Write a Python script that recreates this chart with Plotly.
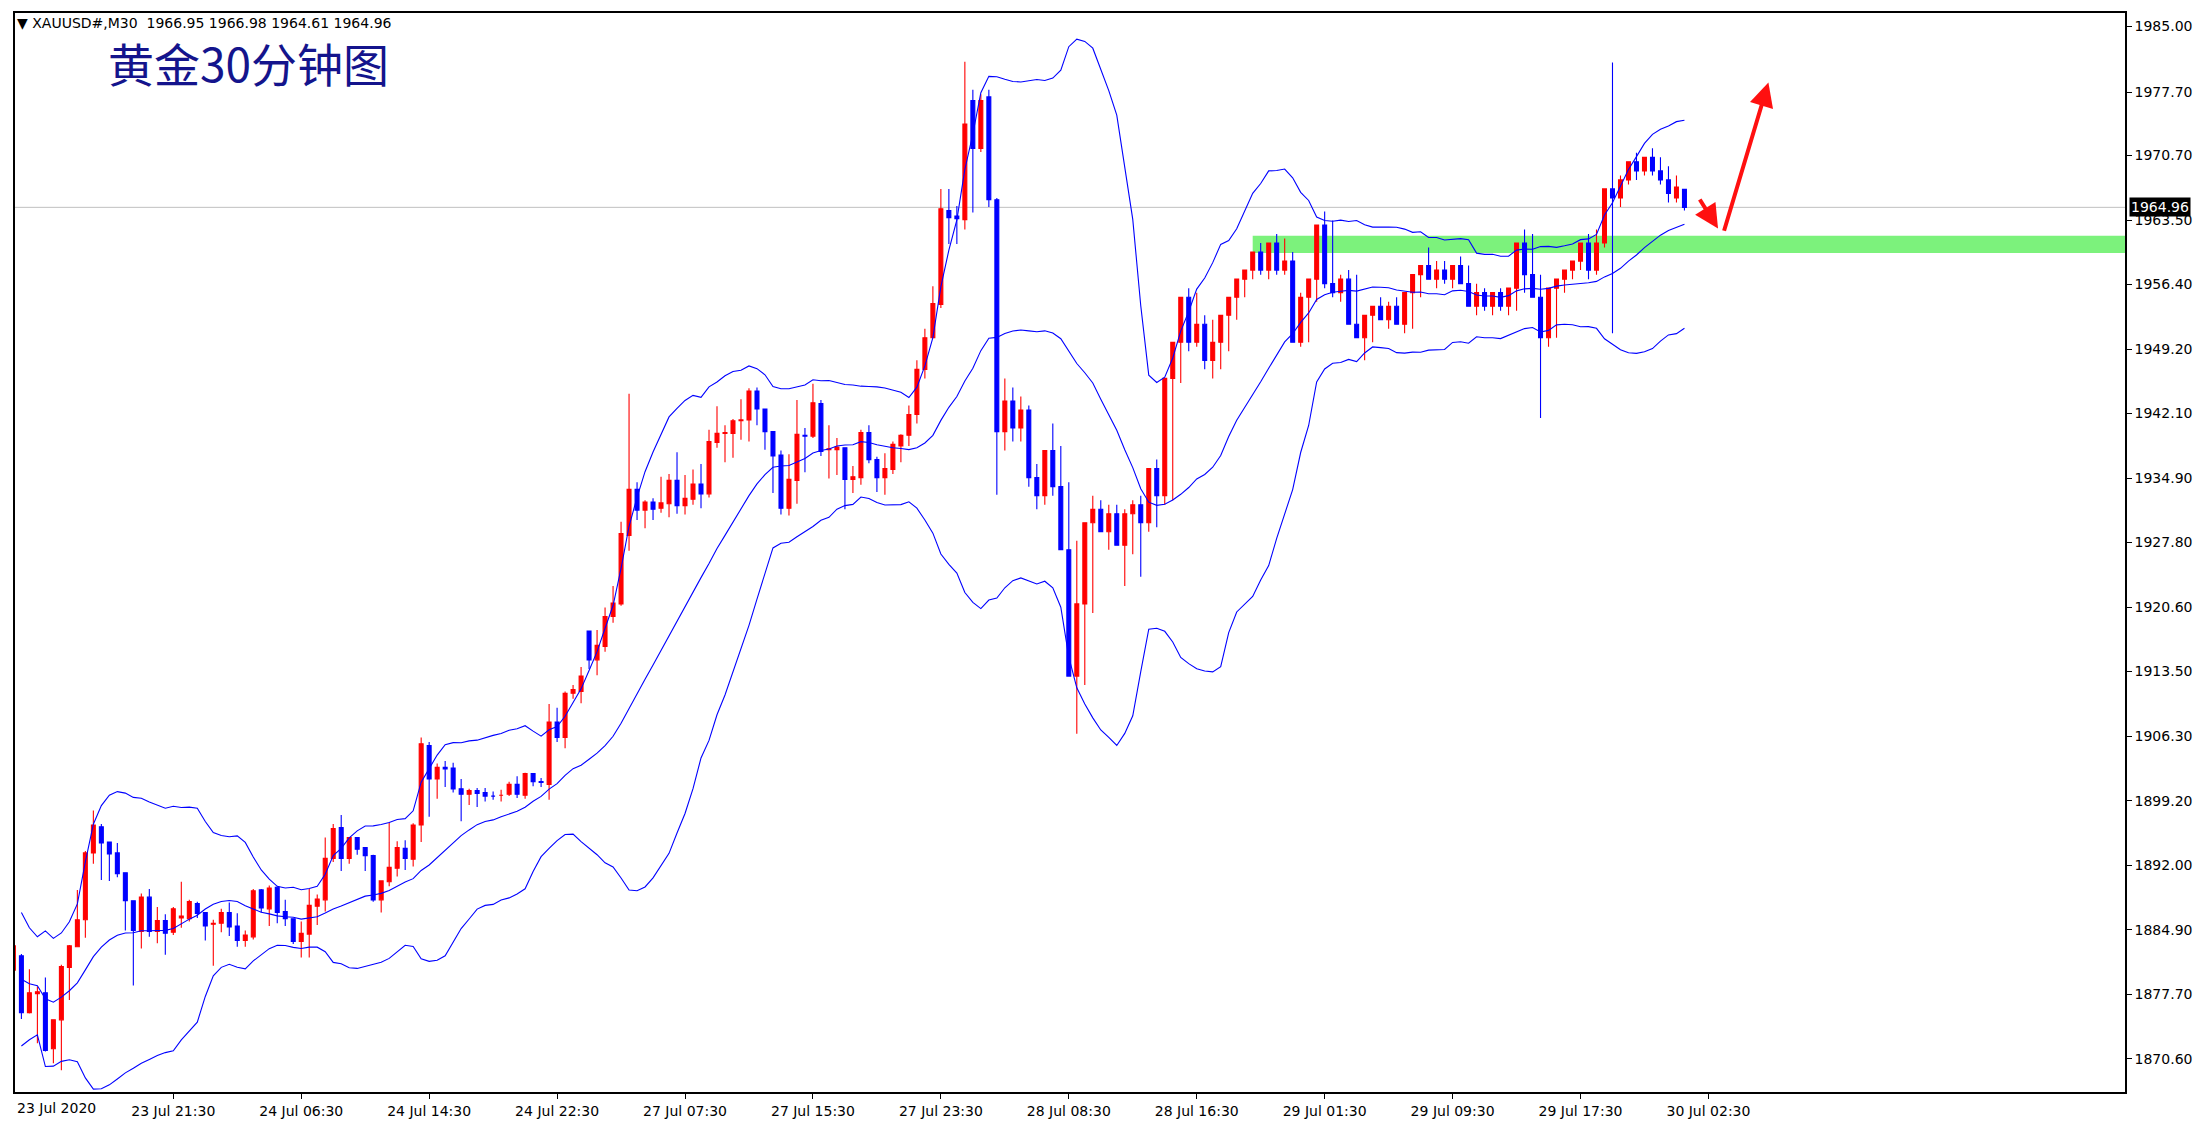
import plotly.graph_objects as go
import pandas as pd

# 30-minute XAUUSD bars (bar 0 = 23 Jul 11:30)
opens = [1880.4, 1882.0, 1875.7, 1877.8, 1877.9, 1871.7, 1874.9, 1880.7, 1883.0, 1886.0,
         1893.4, 1896.3, 1894.6, 1893.4, 1891.2, 1888.1, 1884.7, 1888.5, 1884.7, 1885.9,
         1884.6, 1886.2, 1886.1, 1887.8, 1886.8, 1885.5, 1885.6, 1886.8, 1885.3, 1883.7,
         1884.1, 1889.3, 1887.2, 1889.6, 1886.9, 1886.1, 1883.6, 1884.4, 1887.5, 1888.2,
         1892.8, 1896.2, 1892.8, 1895.1, 1894.0, 1893.1, 1888.2, 1890.2, 1891.7, 1893.9,
         1892.7, 1896.5, 1905.3, 1901.6, 1902.9, 1902.8, 1900.5, 1899.9, 1900.3, 1900.1,
         1899.7, 1899.8, 1899.9, 1901.0, 1899.8, 1902.2, 1901.3, 1901.0, 1907.9, 1906.2,
         1911.1, 1911.3, 1918.0, 1914.8, 1916.3, 1919.6, 1921.0, 1928.6, 1933.7, 1931.4,
         1932.3, 1931.6, 1932.1, 1934.7, 1931.9, 1932.6, 1934.3, 1933.2, 1938.9, 1939.9,
         1939.9, 1941.3, 1941.4, 1944.6, 1942.6, 1940.1, 1937.5, 1931.6, 1934.7, 1939.7,
         1939.6, 1943.2, 1938.1, 1938.1, 1938.3, 1934.8, 1935.0, 1940.0, 1937.0, 1935.0,
         1935.9, 1938.5, 1939.7, 1942.0, 1947.0, 1950.5, 1954.2, 1964.6, 1964.0, 1963.6,
         1976.8, 1971.5, 1977.2, 1965.8, 1940.1, 1943.5, 1940.5, 1942.5, 1935.0, 1933.0,
         1938.0, 1934.0, 1927.0, 1913.0, 1921.0, 1930.0, 1931.5, 1929.0, 1931.0, 1927.5,
         1931.0, 1932.0, 1930.0, 1936.0, 1933.0, 1946.0, 1950.0, 1955.0, 1950.0, 1952.0,
         1948.0, 1950.0, 1953.0, 1955.0, 1957.0, 1958.0, 1960.0, 1958.0, 1961.0, 1958.0,
         1959.0, 1950.0, 1955.0, 1957.0, 1963.0, 1956.5, 1955.5, 1957.0, 1952.0, 1950.5,
         1953.0, 1954.0, 1952.5, 1954.0, 1952.0, 1955.5, 1957.5, 1958.5, 1957.0, 1958.0,
         1957.0, 1958.5, 1956.5, 1954.0, 1955.5, 1954.0, 1955.5, 1954.0, 1956.0, 1961.0,
         1957.5, 1955.0, 1950.5, 1956.0, 1957.0, 1958.0, 1959.0, 1961.0, 1958.0, 1961.0,
         1967.0, 1966.0, 1968.0, 1970.0, 1969.0, 1970.5, 1969.0, 1968.0, 1966.0, 1966.95]
closes = [1883.1, 1875.7, 1877.9, 1878.0, 1871.5, 1874.9, 1880.8, 1883.1, 1886.0, 1893.4,
          1896.5, 1894.5, 1893.3, 1891.1, 1888.1, 1884.8, 1888.5, 1884.7, 1885.9, 1884.5,
          1887.2, 1886.4, 1888.0, 1886.7, 1885.3, 1885.6, 1886.8, 1885.2, 1883.7, 1884.3,
          1889.2, 1887.3, 1889.5, 1886.8, 1886.1, 1883.6, 1884.5, 1887.6, 1888.3, 1892.8,
          1896.1, 1892.8, 1895.1, 1893.8, 1893.1, 1888.2, 1890.3, 1891.8, 1894.0, 1892.8,
          1896.5, 1905.5, 1901.6, 1902.9, 1902.7, 1900.5, 1899.9, 1900.3, 1900.0, 1899.7,
          1899.7, 1899.8, 1901.0, 1899.9, 1902.2, 1901.3, 1901.2, 1907.9, 1906.2, 1911.1,
          1911.5, 1913.0, 1914.8, 1916.4, 1919.6, 1921.1, 1928.8, 1933.7, 1931.4, 1932.3,
          1931.5, 1932.2, 1934.7, 1931.9, 1932.7, 1934.3, 1933.2, 1939.0, 1939.9, 1940.0,
          1941.3, 1941.4, 1944.6, 1942.6, 1940.1, 1937.4, 1931.6, 1934.8, 1939.8, 1939.6,
          1943.3, 1937.9, 1938.2, 1938.4, 1934.8, 1935.1, 1940.0, 1937.0, 1935.0, 1936.0,
          1938.7, 1939.7, 1942.0, 1947.0, 1950.5, 1954.3, 1964.8, 1963.8, 1963.7, 1974.2,
          1971.5, 1976.8, 1965.8, 1940.1, 1943.5, 1940.5, 1942.5, 1935.0, 1933.0, 1938.0,
          1934.0, 1927.0, 1913.0, 1921.0, 1930.0, 1931.5, 1929.0, 1931.0, 1927.5, 1931.0,
          1932.0, 1930.0, 1936.0, 1933.0, 1946.0, 1950.0, 1955.0, 1950.0, 1952.0, 1948.0,
          1950.0, 1953.0, 1955.0, 1957.0, 1958.0, 1960.0, 1958.0, 1961.0, 1958.0, 1959.0,
          1950.0, 1955.0, 1957.0, 1963.0, 1956.5, 1955.5, 1957.0, 1952.0, 1950.5, 1953.0,
          1954.0, 1952.5, 1954.0, 1952.0, 1955.5, 1957.5, 1958.5, 1957.0, 1958.0, 1957.0,
          1958.5, 1956.5, 1954.0, 1955.5, 1954.0, 1955.5, 1954.0, 1956.0, 1961.0, 1957.5,
          1955.0, 1950.5, 1956.0, 1957.0, 1958.0, 1959.0, 1961.0, 1958.0, 1961.0, 1967.0,
          1966.0, 1968.0, 1970.0, 1969.0, 1970.5, 1969.0, 1968.0, 1966.5, 1967.2, 1964.96]
highs = [1883.1, 1882.2, 1880.5, 1878.6, 1879.6, 1874.9, 1881.0, 1883.2, 1889.3, 1893.6,
         1898.1, 1896.6, 1894.6, 1894.5, 1891.2, 1888.1, 1888.9, 1889.4, 1887.4, 1886.6,
         1887.4, 1890.2, 1888.2, 1888.0, 1886.8, 1886.0, 1887.2, 1887.9, 1886.7, 1884.8,
         1889.4, 1889.4, 1889.8, 1889.7, 1888.2, 1886.1, 1885.8, 1889.4, 1888.8, 1895.1,
         1896.6, 1897.6, 1895.1, 1895.1, 1894.0, 1893.2, 1890.3, 1896.8, 1894.7, 1894.8,
         1896.7, 1906.2, 1905.7, 1903.3, 1903.6, 1903.4, 1901.6, 1900.5, 1900.6, 1900.6,
         1900.2, 1900.4, 1901.3, 1901.9, 1902.3, 1902.2, 1901.7, 1909.9, 1909.5, 1911.3,
         1912.0, 1914.0, 1918.0, 1918.1, 1920.6, 1923.0, 1930.1, 1944.3, 1934.5, 1932.5,
         1932.7, 1935.1, 1935.4, 1937.8, 1935.3, 1935.9, 1936.5, 1940.3, 1942.9, 1940.8,
         1941.5, 1943.7, 1944.9, 1945.0, 1942.6, 1940.1, 1938.0, 1937.6, 1943.6, 1940.5,
         1945.4, 1943.6, 1940.8, 1939.4, 1938.3, 1936.3, 1940.3, 1940.8, 1937.3, 1937.7,
         1939.0, 1939.8, 1943.0, 1948.0, 1951.5, 1956.2, 1967.0, 1967.0, 1965.1, 1981.1,
         1978.0, 1977.5, 1978.0, 1966.0, 1946.0, 1945.0, 1944.0, 1943.0, 1936.5, 1934.5,
         1941.0, 1938.5, 1934.5, 1928.0, 1922.5, 1933.0, 1932.5, 1932.0, 1932.0, 1931.5,
         1932.5, 1933.0, 1931.5, 1937.0, 1936.5, 1947.0, 1951.0, 1956.0, 1955.5, 1953.0,
         1952.5, 1951.0, 1954.0, 1956.0, 1958.0, 1959.5, 1961.0, 1961.0, 1962.0, 1961.5,
         1960.0, 1955.5, 1956.0, 1957.5, 1964.5, 1963.5, 1957.5, 1958.0, 1957.5, 1952.0,
         1954.0, 1955.0, 1954.5, 1955.0, 1954.5, 1956.0, 1958.0, 1960.5, 1959.0, 1959.0,
         1958.5, 1959.5, 1958.5, 1956.5, 1956.0, 1955.5, 1956.0, 1955.5, 1957.5, 1962.5,
         1962.0, 1957.5, 1953.0, 1956.5, 1957.5, 1959.0, 1960.0, 1962.0, 1962.5, 1962.0,
         1981.0, 1968.5, 1969.0, 1971.0, 1970.5, 1971.5, 1970.5, 1969.5, 1968.5, 1966.98]
lows = [1880.4, 1875.0, 1875.6, 1872.3, 1871.4, 1870.1, 1869.3, 1877.1, 1883.0, 1884.0,
        1892.2, 1890.4, 1890.3, 1890.7, 1884.8, 1878.7, 1882.8, 1884.1, 1883.4, 1882.1,
        1884.3, 1885.1, 1885.8, 1886.2, 1883.7, 1880.9, 1884.6, 1884.2, 1883.0, 1883.0,
        1883.8, 1886.8, 1885.3, 1885.6, 1885.3, 1883.3, 1881.8, 1881.8, 1885.4, 1886.9,
        1892.4, 1891.4, 1892.2, 1893.2, 1891.4, 1888.0, 1886.8, 1889.7, 1890.8, 1891.5,
        1891.9, 1894.6, 1897.4, 1899.4, 1900.7, 1900.1, 1896.9, 1898.7, 1898.5, 1899.1,
        1899.3, 1899.1, 1899.7, 1899.5, 1899.4, 1900.8, 1900.7, 1899.3, 1905.7, 1905.0,
        1910.5, 1910.0, 1913.8, 1913.1, 1915.7, 1918.9, 1920.8, 1926.9, 1930.3, 1929.4,
        1930.3, 1931.1, 1930.6, 1931.0, 1930.9, 1932.0, 1931.6, 1932.8, 1938.3, 1936.7,
        1937.2, 1939.2, 1939.0, 1940.8, 1938.1, 1933.3, 1930.9, 1930.8, 1932.1, 1935.6,
        1939.4, 1937.4, 1934.9, 1935.3, 1931.5, 1933.3, 1934.2, 1936.6, 1933.4, 1933.1,
        1935.4, 1936.7, 1938.5, 1941.0, 1946.0, 1953.2, 1953.8, 1960.9, 1960.9, 1962.5,
        1964.4, 1971.1, 1965.0, 1933.1, 1938.0, 1939.0, 1939.0, 1934.0, 1931.5, 1932.0,
        1933.0, 1933.0, 1926.0, 1906.6, 1912.0, 1920.0, 1929.5, 1927.0, 1928.0, 1923.0,
        1926.5, 1924.0, 1929.0, 1929.5, 1932.0, 1932.5, 1945.5, 1949.0, 1949.5, 1947.0,
        1946.0, 1947.0, 1949.0, 1952.5, 1955.0, 1957.0, 1957.5, 1957.0, 1957.5, 1957.5,
        1956.0, 1949.5, 1950.0, 1954.5, 1956.0, 1955.0, 1954.5, 1955.0, 1951.0, 1948.0,
        1950.0, 1952.5, 1951.5, 1952.0, 1951.0, 1951.5, 1955.0, 1957.0, 1956.0, 1956.5,
        1956.0, 1956.5, 1955.5, 1953.0, 1953.5, 1953.0, 1953.5, 1953.0, 1953.5, 1955.5,
        1956.0, 1941.6, 1949.5, 1950.5, 1955.5, 1957.0, 1958.0, 1957.0, 1957.5, 1960.5,
        1951.0, 1965.0, 1967.5, 1968.0, 1968.5, 1968.5, 1967.5, 1965.5, 1965.5, 1964.61]

first_label = "23 Jul 2020"
tick_bars = [20, 36, 52, 68, 84, 100, 116, 132, 148, 164, 180, 196, 212]
tick_labels = ["23 Jul 21:30", "24 Jul 06:30", "24 Jul 14:30", "24 Jul 22:30",
               "27 Jul 07:30", "27 Jul 15:30", "27 Jul 23:30", "28 Jul 08:30", "28 Jul 16:30",
               "29 Jul 01:30", "29 Jul 09:30", "29 Jul 17:30", "30 Jul 02:30"]
price_ticks = [1985.00, 1977.70, 1970.70, 1963.50, 1956.40, 1949.20, 1942.10, 1934.90, 1927.80,
               1920.60, 1913.50, 1906.30, 1899.20, 1892.00, 1884.90, 1877.70, 1870.60]
last_price = 1964.96
zone_low, zone_high, zone_start = 1959.9, 1961.8, 155

bars = list(range(len(closes)))

# bollinger bands (20, 2) on the closes
s = pd.Series(closes)
mid = s.rolling(20, min_periods=2).mean()
sd = s.rolling(20, min_periods=2).std(ddof=0)
upper = mid + 2 * sd
lower = mid - 2 * sd

fig = go.Figure()

fig.add_shape(type="rect", xref="x", yref="y", x0=zone_start, x1=300, y0=zone_low, y1=zone_high,
              fillcolor="#7CF27C", line_width=0, layer="below")
fig.add_shape(type="line", xref="paper", yref="y", x0=0, x1=1, y0=last_price, y1=last_price,
              line=dict(color="#c0c0c0", width=1), layer="below")

for band in [upper, mid, lower]:
    fig.add_trace(go.Scatter(x=bars, y=band, mode="lines", line=dict(color="#0000ff", width=1.1),
                             hoverinfo="skip", showlegend=False))

fig.add_trace(go.Candlestick(x=bars, open=opens, high=highs, low=lows, close=closes,
                             increasing=dict(line=dict(color="#ff0000", width=1.1), fillcolor="#ff0000"),
                             decreasing=dict(line=dict(color="#0000ff", width=1.1), fillcolor="#0000ff"),
                             whiskerwidth=0, showlegend=False))

# red arrows
fig.add_annotation(x=213.2, y=1962.6, ax=210.8, ay=1966.0, xref="x", yref="y", axref="x", ayref="y",
                   text="", showarrow=True, arrowhead=2, arrowsize=1.2, arrowwidth=4, arrowcolor="#ff1010")
fig.add_annotation(x=219.5, y=1978.8, ax=213.9, ay=1962.2, xref="x", yref="y", axref="x", ayref="y",
                   text="", showarrow=True, arrowhead=2, arrowsize=1.2, arrowwidth=4, arrowcolor="#ff1010")

fig.add_annotation(x=0.043, y=0.955, xref="paper", yref="paper", text="黄金30分钟图", showarrow=False,
                   xanchor="left", yanchor="middle",
                   font=dict(family="Noto Sans CJK SC", size=46, color="#14148c"))
fig.add_annotation(x=0.0, y=1.0, xref="paper", yref="paper",
                   text="▼ XAUUSD#,M30  1966.95 1966.98 1964.61 1964.96", showarrow=False,
                   xanchor="left", yanchor="top", font=dict(family="DejaVu Sans", size=14, color="#000"))
fig.add_annotation(x=1.0, y=last_price, xref="paper", yref="y", text=f"{last_price:.2f}", showarrow=False,
                   xanchor="left", xshift=4, bgcolor="#000000", font=dict(family="DejaVu Sans", size=14, color="#fff"))
fig.add_annotation(x=0.0, y=0, xref="paper", yref="paper", text=first_label, showarrow=False,
                   xanchor="left", yanchor="top", yshift=-6,
                   font=dict(family="DejaVu Sans", size=14, color="#000"))

fig.update_layout(
    width=2202, height=1124, plot_bgcolor="white", paper_bgcolor="white",
    margin=dict(l=7, r=85, t=3, b=40),
    xaxis=dict(range=[0.2, 264.1], tickvals=tick_bars, ticktext=tick_labels, showgrid=False, zeroline=False,
               ticks="outside", ticklen=5, tickcolor="#000",
               showline=True, linecolor="#000", mirror=True, linewidth=1.5,
               rangeslider=dict(visible=False), tickfont=dict(family="DejaVu Sans", size=14, color="#000")),
    yaxis=dict(range=[1866.9, 1986.5], side="right", tickvals=price_ticks,
               ticktext=[f"{v:.2f}" for v in price_ticks], showgrid=False, zeroline=False,
               ticks="outside", ticklen=5, tickcolor="#000", showline=True, linecolor="#000", mirror=True,
               linewidth=1.5, tickfont=dict(family="DejaVu Sans", size=14, color="#000")),
)

fig.write_html("out.html")
